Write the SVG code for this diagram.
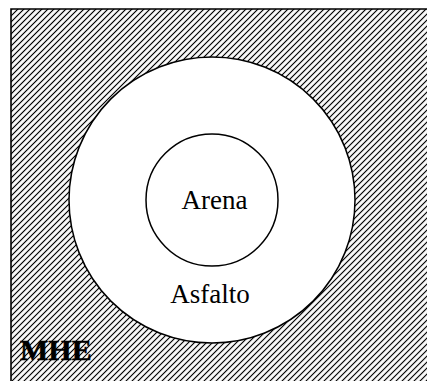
<svg xmlns="http://www.w3.org/2000/svg" width="427" height="381" viewBox="0 0 427 381">
  <style>
    .ring { fill: #ffffff; stroke: #000000; stroke-width: 1.5; }
    .lbl { font-family: "Liberation Serif", "Times New Roman", serif; fill: #000000; font-size: 27px; text-anchor: middle; }
  </style>
  <defs>
    <pattern id="hatch" width="4.243" height="4.243" patternUnits="userSpaceOnUse" patternTransform="rotate(-45)">
      <rect width="4.243" height="4.243" fill="#ffffff"/>
      <line x1="-1" y1="2.12" x2="5.3" y2="2.12" stroke="#000000" stroke-width="1.15"/>
    </pattern>
  </defs>
  <rect width="427" height="381" fill="#ffffff"/>
  <g id="mhe">
    <rect x="11" y="9" width="430" height="390" fill="url(#hatch)"/>
    <path d="M11,381 L11,9 L427,9" fill="none" stroke="#000000" stroke-width="1.6"/>
    <text x="20" y="360" font-family="Liberation Serif, Times New Roman, serif" font-size="30" font-weight="bold" fill="#000000" stroke="#000000" stroke-width="0.5">MHE</text>
  </g>
  <g id="asfalto">
    <circle class="ring" cx="212" cy="200" r="143"/>
    <text class="lbl" x="210" y="303">Asfalto</text>
  </g>
  <g id="arena">
    <circle class="ring" cx="212" cy="200" r="66"/>
    <text class="lbl" x="214.5" y="209">Arena</text>
  </g>
  <g id="connectors"/>
</svg>
